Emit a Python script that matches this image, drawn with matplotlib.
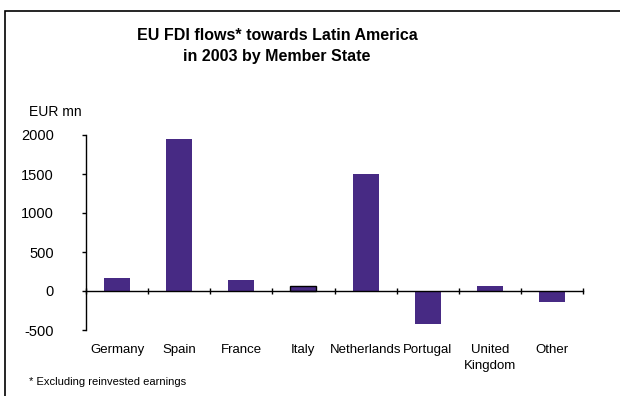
import matplotlib
matplotlib.use("Agg")
import matplotlib.pyplot as plt
from matplotlib.patches import Rectangle
import matplotlib.transforms as mtrans

categories = ["Germany", "Spain", "France", "Italy", "Netherlands", "Portugal", "United\nKingdom", "Other"]
values = [165, 1950, 140, 70, 1500, -420, 65, -140]
yticks = [-500, 0, 500, 1000, 1500, 2000]

plt.rcParams['font.family'] = ['Liberation Sans', 'DejaVu Sans']

fig = plt.figure(figsize=(6.2, 3.96), dpi=100)
fig.patch.set_facecolor("white")

frame = Rectangle((5/620, -0.1), 1.2, 1 - 11/396 + 0.1, transform=fig.transFigure,
                  fill=False, edgecolor="black", linewidth=1.2, clip_on=False)
fig.patches.append(frame)

ax = fig.add_axes([86/620, 1 - 330/396, (583 - 86)/620, (330 - 135)/396])
x = list(range(len(categories)))
edges = ["none"] * len(categories)
edges[3] = "black"
ax.bar(x, values, width=0.42, color="#472A84", edgecolor=edges, linewidth=1.0, zorder=2)

ax.set_xlim(-0.5, len(categories) - 0.5)
ax.set_ylim(-500, 2000)
ax.set_yticks(yticks)
ax.set_yticklabels([str(v) for v in yticks], fontsize=10.5)
ax.tick_params(axis='y', direction='out', length=3, pad=20, width=1)

ax.spines['top'].set_visible(False)
ax.spines['right'].set_visible(False)
ax.spines['bottom'].set_position(('data', 0))
ax.spines['bottom'].set_zorder(3)
ax.spines['left'].set_linewidth(1)
ax.spines['bottom'].set_linewidth(1)

ax.set_xticks([i + 0.5 for i in range(-1, len(categories))])
ax.set_xticklabels([])
ax.tick_params(axis='x', direction='inout', length=5, width=1)

tr = mtrans.blended_transform_factory(ax.transData, fig.transFigure)
for i, c in enumerate(categories):
    ax.text(i, 1 - 344/396, c, transform=tr, ha='center', va='top', fontsize=9.5, linespacing=1.45)

fig.text(277/620, 1 - 46/396, "EU FDI flows* towards Latin America\nin 2003 by Member State",
         ha='center', va='center', fontsize=11.5, fontweight='bold', linespacing=1.55)
fig.text(29/620, 1 - 112/396, "EUR mn", ha='left', va='center', fontsize=10)
fig.text(29/620, 1 - 382/396, "* Excluding reinvested earnings", ha='left', va='center', fontsize=8)

fig.savefig("out.png", dpi=100)
